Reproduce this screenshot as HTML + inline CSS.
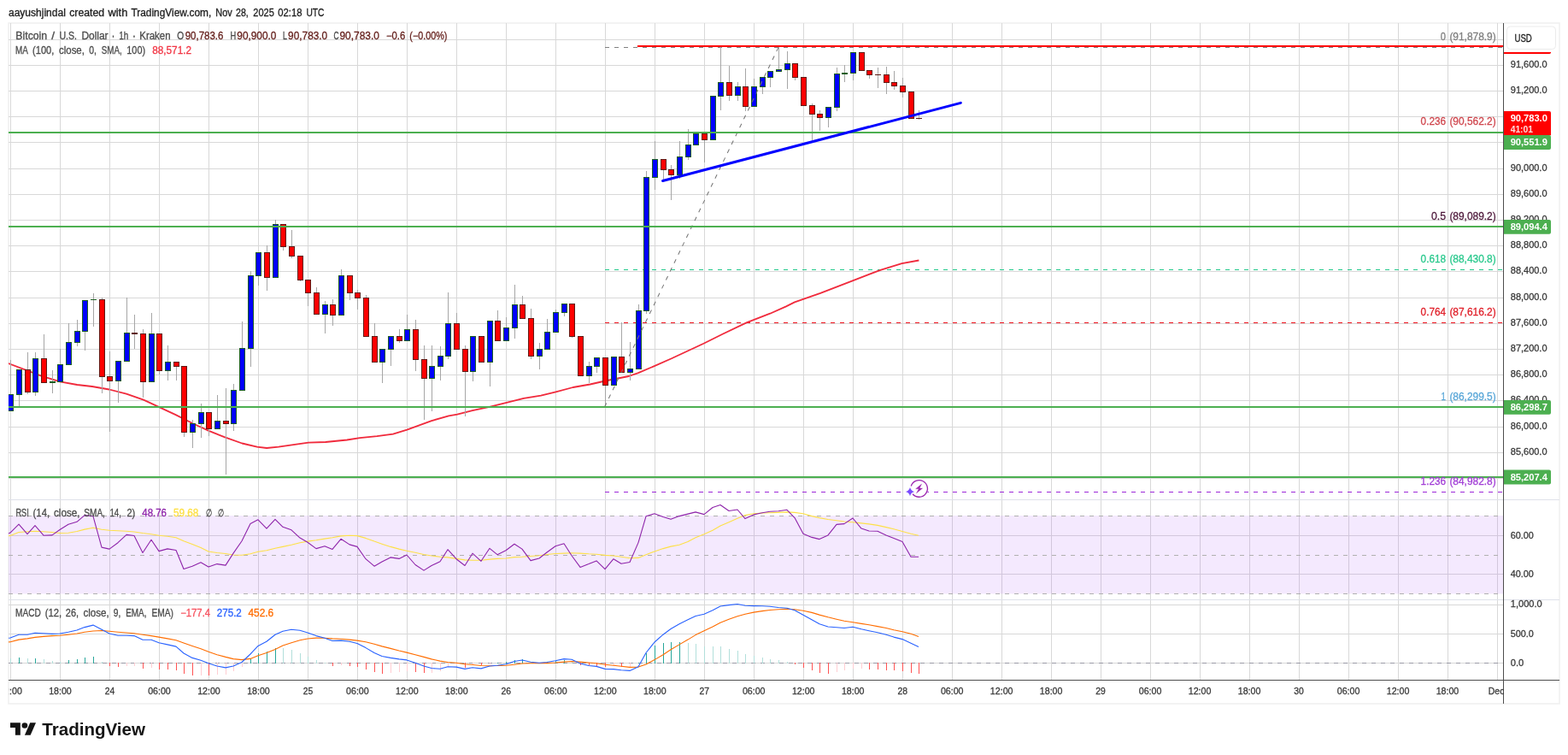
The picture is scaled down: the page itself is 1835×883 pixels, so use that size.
<!DOCTYPE html>
<html lang="en">
<head>
<meta charset="utf-8">
<title>BTCUSD chart</title>
<style>
html,body{margin:0;padding:0;background:#fff;}
body{width:1835px;height:883px;overflow:hidden;}
svg{display:block;font-family:"Liberation Sans",sans-serif;}
text{white-space:pre;}
</style>
</head>
<body>
<svg width="1835" height="883" viewBox="0 0 1835 883">
<defs>
<clipPath id="cpMain"><rect x="10" y="27" width="1749.0" height="768.0"/></clipPath>
<clipPath id="cpTime"><rect x="10.9" y="795.5" width="1749.0" height="27.5"/></clipPath>
</defs>
<rect width="1835" height="883" fill="#fff"/>
<rect x="10" y="27" width="1815" height="796" fill="#fff" stroke="#f0f0f0" stroke-width="1.6"/>
<g shape-rendering="crispEdges" stroke-width="1">
<path d="M12.5 27V795.5M70.5 27V795.5M128.5 27V795.5M186.5 27V795.5M244.5 27V795.5M302.5 27V795.5M360.5 27V795.5M418.5 27V795.5M476.5 27V795.5M534.5 27V795.5M592.5 27V795.5M650.5 27V795.5M708.5 27V795.5M766.5 27V795.5M824.5 27V795.5M882.5 27V795.5M940.5 27V795.5M998.5 27V795.5M1056.5 27V795.5M1114.5 27V795.5M1172.5 27V795.5M1230.5 27V795.5M1288.5 27V795.5M1346.5 27V795.5M1404.5 27V795.5M1462.5 27V795.5M1520.5 27V795.5M1578.5 27V795.5M1636.5 27V795.5M1694.5 27V795.5M1752.5 27V795.5" stroke="#d8d8d8" fill="none"/>
<path d="M10 46.5H1759.5M10 76.5H1759.5M10 106.5H1759.5M10 136.5H1759.5M10 166.5H1759.5M10 197.5H1759.5M10 227.5H1759.5M10 257.5H1759.5M10 287.5H1759.5M10 317.5H1759.5M10 348.5H1759.5M10 378.5H1759.5M10 408.5H1759.5M10 438.5H1759.5M10 468.5H1759.5M10 499.5H1759.5M10 529.5H1759.5M10 559.5H1759.5M10 626.5H1759.5M10 671.5H1759.5M10 707.5H1759.5M10 741.5H1759.5M10 775.5H1759.5" stroke="#d8d8d8" fill="none"/>
</g>
<rect x="10" y="603" width="1749.0" height="91.5" fill="#a855f7" fill-opacity="0.13"/>
<g shape-rendering="crispEdges" stroke="#b0b0b0" stroke-width="1" stroke-dasharray="5 6" fill="none">
<path d="M9.6 603.5H1759.5M9.6 649.5H1759.5M9.6 694.5H1759.5"/>
<path d="M9.6 775.5H1759.5" stroke="#9a9aa6"/>
</g>
<g shape-rendering="crispEdges" stroke="#dfe1ea" stroke-width="1"><path d="M10 584.5H1825M10 701.5H1825"/></g>
<g fill="none" stroke-width="1" shape-rendering="crispEdges">
<path d="M708 55.5H1759.5" stroke="#808080" stroke-dasharray="5 6"/>
<path d="M708 315.5H1759.5" stroke="#22c98b" stroke-dasharray="5 6"/>
<path d="M708 377.5H1759.5" stroke="#f0131e" stroke-dasharray="5 6"/>
<path d="M708 575.5H1759.5" stroke="#9c27d8" stroke-dasharray="5 6"/>
</g>
<polyline points="10.0,425.0 47.6,439.4 53.9,441.3 70.2,446.3 90.2,450.0 107.8,452.0 127.8,455.5 147.9,460.6 168.0,467.6 186.8,476.4 205.6,485.1 225.6,495.2 244.4,503.9 263.2,511.4 283.3,518.5 300.8,522.7 312.1,524.0 325.9,522.7 343.4,520.2 361.0,517.7 381.0,517.0 406.1,514.5 421.2,512.2 441.2,510.2 460.0,507.7 476.3,502.7 505.1,492.1 525.2,486.4 535.2,484.6 552.8,480.1 572.8,475.8 592.9,470.8 612.9,465.8 633.0,462.6 650.5,458.3 670.6,453.0 690.6,449.5 708.2,445.5 723.2,442.5 735.8,440.0 747.0,436.1 765.8,428.1 785.9,419.3 823.5,401.7 846.1,390.5 873.6,377.4 901.2,366.7 920.0,358.4 930.0,353.4 960.1,342.8 997.7,328.3 1030.3,315.8 1055.4,308.2 1075.4,304.5" stroke="#f02a3c" stroke-width="1.8" fill="none" stroke-linejoin="round" clip-path="url(#cpMain)"/>
<g shape-rendering="crispEdges" clip-path="url(#cpMain)">
<path d="M12.5 421V481M22.5 432V475M32.5 412V461M41.5 412V463M51.5 391V448M61.5 433V460M70.5 408V447M80.5 378V427M90.5 374V405M99.5 351V410M109.5 343V382M119.5 348V460M128.5 411V505M138.5 422V471M148.5 348V423M157.5 368V408M167.5 385V465M177.5 366V447M186.5 390V438M196.5 404V445M206.5 423V445M215.5 428V511M225.5 491V524M235.5 472V512M244.5 482V510M254.5 462V502M264.5 454V555M273.5 449V504M283.5 376V457M293.5 317V429M302.5 295V334M312.5 287V340M322.5 257V325M331.5 262V293M341.5 269V302M351.5 299V329M360.5 327V358M370.5 336V368M380.5 352V390M389.5 350V381M399.5 315V369M409.5 322V351M418.5 339V362M428.5 345V394M438.5 378V424M447.5 408V448M457.5 393V428M467.5 385V401M476.5 368V399M486.5 374V434M496.5 404V491M505.5 404V481M515.5 405V445M524.5 342V420M534.5 366V409M544.5 404V487M553.5 393V446M563.5 393V424M573.5 375V452M582.5 363V399M592.5 371V399M602.5 333V396M611.5 346V373M621.5 361V420M631.5 401V432M640.5 373V409M650.5 362V389M660.5 355V370M669.5 355V395M679.5 393V440M689.5 423V448M698.5 418V436M708.5 418V475M718.5 417V451M727.5 377V436M737.5 400V445M747.5 356V432M756.5 200V367M766.5 165V222M776.5 186V211M785.5 193V234M795.5 165V209M805.5 151V187M814.5 156V170M824.5 156V190M834.5 112V164M843.5 55V129M853.5 77V118M863.5 96V118M872.5 80V130M882.5 92V125M892.5 90V110M901.5 83V102M911.5 55V84M921.5 60V104M930.5 74V94M940.5 90V124M950.5 121V164M959.5 129V153M969.5 125V149M979.5 79V130M988.5 76V96M998.5 61V94M1008.5 61V83M1017.5 82V92M1027.5 79V103M1037.5 78V110M1046.5 83V105M1056.5 91V114M1066.5 107V139M1075.5 129V140" stroke="#a6a6a6" stroke-width="1" fill="none"/>
<path d="M9.0 461h7v20h-7zM19.0 432h7v30h-7zM38.0 419h7v40h-7zM67.0 426h7v21h-7zM77.0 400h7v27h-7zM87.0 387h7v14h-7zM96.0 351h7v37h-7zM135.0 422h7v24h-7zM145.0 389h7v34h-7zM174.0 390h7v57h-7zM193.0 423h7v11h-7zM222.0 495h7v11h-7zM232.0 482h7v14h-7zM251.0 492h7v10h-7zM270.0 456h7v40h-7zM280.0 407h7v50h-7zM290.0 322h7v86h-7zM299.0 295h7v28h-7zM319.0 262h7v63h-7zM377.0 356h7v12h-7zM396.0 322h7v47h-7zM444.0 408h7v16h-7zM454.0 393h7v16h-7zM473.0 385h7v14h-7zM502.0 428h7v15h-7zM512.0 416h7v13h-7zM521.0 378h7v39h-7zM550.0 393h7v42h-7zM570.0 375h7v49h-7zM589.0 383h7v16h-7zM599.0 356h7v28h-7zM628.0 408h7v9h-7zM637.0 388h7v21h-7zM647.0 365h7v24h-7zM657.0 355h7v11h-7zM686.0 428h7v12h-7zM695.0 418h7v11h-7zM715.0 417h7v34h-7zM734.0 431h7v5h-7zM744.0 363h7v69h-7zM753.0 207h7v157h-7zM763.0 186h7v22h-7zM792.0 183h7v22h-7zM802.0 169h7v15h-7zM811.0 156h7v14h-7zM831.0 112h7v52h-7zM840.0 96h7v17h-7zM860.0 101h7v11h-7zM879.0 101h7v24h-7zM889.0 90h7v12h-7zM898.0 83h7v8h-7zM908.0 81h7v3h-7zM918.0 74h7v8h-7zM966.0 125h7v13h-7zM976.0 86h7v40h-7zM995.0 61h7v25h-7zM58.0 446h7v2h-7zM106.0 350h7v1h-7zM985.0 85h7v2h-7z" fill="#1b5e20"/>
<path d="M29.0 432h7v27h-7zM48.0 419h7v29h-7zM116.0 350h7v91h-7zM125.0 440h7v6h-7zM164.0 390h7v57h-7zM183.0 390h7v44h-7zM203.0 423h7v6h-7zM212.0 428h7v78h-7zM241.0 482h7v20h-7zM261.0 492h7v4h-7zM309.0 295h7v30h-7zM328.0 262h7v27h-7zM338.0 288h7v12h-7zM348.0 299h7v29h-7zM357.0 327h7v16h-7zM367.0 342h7v26h-7zM386.0 356h7v13h-7zM406.0 322h7v21h-7zM415.0 342h7v7h-7zM425.0 348h7v46h-7zM435.0 393h7v31h-7zM464.0 393h7v6h-7zM483.0 385h7v36h-7zM493.0 420h7v23h-7zM531.0 378h7v31h-7zM541.0 408h7v27h-7zM560.0 393h7v31h-7zM579.0 375h7v24h-7zM608.0 356h7v17h-7zM618.0 372h7v45h-7zM666.0 355h7v39h-7zM676.0 393h7v47h-7zM705.0 418h7v33h-7zM724.0 417h7v19h-7zM773.0 186h7v13h-7zM782.0 198h7v7h-7zM821.0 156h7v8h-7zM850.0 96h7v16h-7zM869.0 101h7v24h-7zM927.0 74h7v17h-7zM937.0 90h7v34h-7zM947.0 123h7v11h-7zM956.0 133h7v5h-7zM1005.0 61h7v22h-7zM1014.0 82h7v6h-7zM1034.0 87h7v10h-7zM1043.0 96h7v5h-7zM1053.0 100h7v8h-7zM1063.0 107h7v32h-7zM154.0 389h7v2h-7zM1024.0 87h7v1h-7zM1072.0 138h7v1h-7z" fill="#5e1a14"/>
<path d="M10.0 462h5v18h-5zM20.0 433h5v28h-5zM39.0 420h5v38h-5zM68.0 427h5v19h-5zM78.0 401h5v25h-5zM88.0 388h5v12h-5zM97.0 352h5v35h-5zM136.0 423h5v22h-5zM146.0 390h5v32h-5zM175.0 391h5v55h-5zM194.0 424h5v9h-5zM223.0 496h5v9h-5zM233.0 483h5v12h-5zM252.0 493h5v8h-5zM271.0 457h5v38h-5zM281.0 408h5v48h-5zM291.0 323h5v84h-5zM300.0 296h5v26h-5zM320.0 263h5v61h-5zM378.0 357h5v10h-5zM397.0 323h5v45h-5zM445.0 409h5v14h-5zM455.0 394h5v14h-5zM474.0 386h5v12h-5zM503.0 429h5v13h-5zM513.0 417h5v11h-5zM522.0 379h5v37h-5zM551.0 394h5v40h-5zM571.0 376h5v47h-5zM590.0 384h5v14h-5zM600.0 357h5v26h-5zM629.0 409h5v7h-5zM638.0 389h5v19h-5zM648.0 366h5v22h-5zM658.0 356h5v9h-5zM687.0 429h5v10h-5zM696.0 419h5v9h-5zM716.0 418h5v32h-5zM735.0 432h5v3h-5zM745.0 364h5v67h-5zM754.0 208h5v155h-5zM764.0 187h5v20h-5zM793.0 184h5v20h-5zM803.0 170h5v13h-5zM812.0 157h5v12h-5zM832.0 113h5v50h-5zM841.0 97h5v15h-5zM861.0 102h5v9h-5zM880.0 102h5v22h-5zM890.0 91h5v10h-5zM899.0 84h5v6h-5zM909.0 82h5v1h-5zM919.0 75h5v6h-5zM967.0 126h5v11h-5zM977.0 87h5v38h-5zM996.0 62h5v23h-5z" fill="#0000ff"/>
<path d="M30.0 433h5v25h-5zM49.0 420h5v27h-5zM117.0 351h5v89h-5zM126.0 441h5v4h-5zM165.0 391h5v55h-5zM184.0 391h5v42h-5zM204.0 424h5v4h-5zM213.0 429h5v76h-5zM242.0 483h5v18h-5zM262.0 493h5v2h-5zM310.0 296h5v28h-5zM329.0 263h5v25h-5zM339.0 289h5v10h-5zM349.0 300h5v27h-5zM358.0 328h5v14h-5zM368.0 343h5v24h-5zM387.0 357h5v11h-5zM407.0 323h5v19h-5zM416.0 343h5v5h-5zM426.0 349h5v44h-5zM436.0 394h5v29h-5zM465.0 394h5v4h-5zM484.0 386h5v34h-5zM494.0 421h5v21h-5zM532.0 379h5v29h-5zM542.0 409h5v25h-5zM561.0 394h5v29h-5zM580.0 376h5v22h-5zM609.0 357h5v15h-5zM619.0 373h5v43h-5zM667.0 356h5v37h-5zM677.0 394h5v45h-5zM706.0 419h5v31h-5zM725.0 418h5v17h-5zM774.0 187h5v11h-5zM783.0 199h5v5h-5zM822.0 157h5v6h-5zM851.0 97h5v14h-5zM870.0 102h5v22h-5zM928.0 75h5v15h-5zM938.0 91h5v32h-5zM948.0 124h5v9h-5zM957.0 134h5v3h-5zM1006.0 62h5v20h-5zM1015.0 83h5v4h-5zM1035.0 88h5v8h-5zM1044.0 97h5v3h-5zM1054.0 101h5v6h-5zM1064.0 108h5v30h-5z" fill="#ff0000"/>
</g>
<path d="M707.5 476L911 55.5" stroke="#777" stroke-width="1.05" stroke-dasharray="5 6" fill="none"/>
<g shape-rendering="crispEdges" fill="#4caf50">
<rect x="10" y="154" width="1749.0" height="2"/>
<rect x="10" y="264" width="1749.0" height="2"/>
<rect x="10" y="475" width="1749.0" height="2"/>
<rect x="10" y="557" width="1749.0" height="2"/>
</g>
<rect x="746" y="53" width="1013.0" height="2" fill="#ff0000" shape-rendering="crispEdges"/>
<path d="M775.6 211.5L1124.3 120.4" stroke="#0000ff" stroke-width="3" stroke-linecap="round" fill="none"/>
<polyline points="2.8,627.7 12.0,626.4 22.0,622.5 32.0,621.7 41.0,621.3 51.0,621.7 61.0,622.5 70.0,623.5 80.0,623.2 90.0,621.5 99.0,619.1 109.0,617.3 119.0,619.2 128.0,620.3 138.0,620.7 148.0,621.3 157.0,622.0 167.0,623.5 177.0,624.7 186.0,626.2 196.0,627.3 206.0,628.8 215.0,632.8 225.0,636.5 235.0,640.6 244.0,645.0 254.0,646.5 264.0,647.5 273.0,649.0 283.0,649.3 293.0,647.8 302.0,645.3 312.0,643.8 322.0,641.2 331.0,639.4 341.0,637.2 351.0,634.7 360.0,633.1 370.0,631.8 380.0,630.1 389.0,628.8 399.0,626.9 409.0,626.2 418.0,626.6 428.0,629.4 438.0,633.1 447.0,636.2 457.0,639.4 467.0,642.1 476.0,644.3 486.0,646.3 496.0,648.5 505.0,650.0 515.0,651.2 524.0,651.9 534.0,653.4 544.0,654.9 553.0,655.3 563.0,655.2 573.0,654.1 582.0,653.4 592.0,653.0 602.0,651.6 611.0,651.2 621.0,650.5 631.0,649.7 640.0,648.5 650.0,647.5 660.0,647.1 669.0,646.8 679.0,647.1 689.0,647.8 698.0,648.2 708.0,649.4 718.0,650.0 727.0,651.2 737.0,652.7 747.0,652.4 756.0,648.7 766.0,644.9 776.0,641.6 785.0,639.1 795.0,637.2 805.0,633.5 814.0,628.8 824.0,624.7 834.0,620.3 843.0,615.1 853.0,610.7 863.0,606.3 872.0,602.6 882.0,600.7 892.0,600.0 901.0,599.7 911.0,599.4 921.0,598.9 930.0,599.4 940.0,600.8 950.0,603.6 959.0,605.6 969.0,607.5 979.0,608.8 988.0,610.0 998.0,610.7 1008.0,611.9 1017.0,612.9 1027.0,614.4 1037.0,616.6 1046.0,618.8 1056.0,621.5 1066.0,624.2 1075.0,626.2" stroke="#fde047" stroke-width="1.1" fill="none" stroke-linejoin="round" clip-path="url(#cpMain)"/>
<polyline points="2.8,626.4 12.0,623.1 22.0,613.2 32.0,624.7 41.0,614.7 51.0,626.2 61.0,625.9 70.0,619.5 80.0,613.2 90.0,610.3 99.0,602.6 109.0,603.8 119.0,640.1 128.0,642.1 138.0,634.7 148.0,625.4 157.0,626.5 167.0,646.5 177.0,631.3 186.0,644.6 196.0,641.9 206.0,643.5 215.0,665.5 225.0,662.2 235.0,657.8 244.0,663.0 254.0,659.6 264.0,661.1 273.0,647.1 283.0,632.8 293.0,612.6 302.0,607.8 312.0,618.1 322.0,607.3 331.0,616.3 341.0,619.8 351.0,629.1 360.0,634.3 370.0,641.6 380.0,638.7 389.0,642.4 399.0,630.3 409.0,636.9 418.0,639.4 428.0,653.7 438.0,662.2 447.0,657.1 457.0,651.9 467.0,653.4 476.0,649.0 486.0,660.5 496.0,667.1 505.0,661.5 515.0,656.8 524.0,642.7 534.0,653.7 544.0,661.5 553.0,647.2 563.0,656.3 573.0,641.3 582.0,648.7 592.0,643.8 602.0,636.2 611.0,642.1 621.0,655.6 631.0,653.0 640.0,646.0 650.0,638.7 660.0,635.7 669.0,649.7 679.0,663.4 689.0,659.6 698.0,655.9 708.0,665.6 718.0,653.7 727.0,659.3 737.0,657.5 747.0,634.6 756.0,603.8 766.0,600.7 776.0,604.4 785.0,607.3 795.0,603.6 805.0,601.1 814.0,598.9 824.0,601.6 834.0,593.5 843.0,590.5 853.0,597.5 863.0,596.0 872.0,606.6 882.0,601.9 892.0,599.7 901.0,598.2 911.0,597.8 921.0,596.3 930.0,605.6 940.0,624.2 950.0,628.4 959.0,630.6 969.0,625.9 979.0,613.4 988.0,612.6 998.0,606.0 1008.0,618.1 1017.0,621.0 1027.0,621.3 1037.0,625.9 1046.0,629.4 1056.0,633.5 1066.0,651.2 1075.0,651.2" stroke="#8e24aa" stroke-width="1.1" fill="none" stroke-linejoin="round" clip-path="url(#cpMain)"/>
<g shape-rendering="crispEdges" fill="none" stroke-width="1" clip-path="url(#cpMain)">
<path d="M22.5 776.0V769.1M41.5 776.0V770.1M80.5 776.0V772.0M90.5 776.0V771.0M99.5 776.0V769.1M109.5 776.0V768.1M293.5 776.0V770.4M302.5 776.0V764.0M312.5 776.0V762.0M322.5 776.0V758.1M582.5 776.0V774.5M592.5 776.0V774.1M602.5 776.0V772.3M611.5 776.0V771.2M650.5 776.0V773.4M660.5 776.0V772.3M747.5 776.0V774.5M756.5 776.0V763.5M766.5 776.0V755.1M776.5 776.0V752.2M785.5 776.0V751.0M795.5 776.0V751.0" stroke="#26a69a"/>
<path d="M12.5 776.0V770.1M32.5 776.0V770.1M51.5 776.0V771.2M61.5 776.0V773.1M70.5 776.0V773.7M119.5 776.0V774.1M331.5 776.0V758.1M341.5 776.0V760.1M351.5 776.0V764.2M360.5 776.0V767.9M370.5 776.0V772.0M380.5 776.0V774.5M621.5 776.0V774.3M631.5 776.0V774.5M640.5 776.0V774.5M669.5 776.0V774.3M805.5 776.0V752.2M814.5 776.0V752.9M824.5 776.0V755.9M834.5 776.0V755.9M843.5 776.0V755.9M853.5 776.0V758.8M863.5 776.0V761.0M872.5 776.0V765.0M882.5 776.0V767.2M892.5 776.0V769.1M901.5 776.0V770.9M911.5 776.0V772.0M921.5 776.0V774.1" stroke="#b2dfdb"/>
<path d="M128.5 775.0V779.0M138.5 775.0V780.0M167.5 775.0V781.9M186.5 775.0V782.9M196.5 775.0V782.9M206.5 775.0V783.8M215.5 775.0V787.8M225.5 775.0V790.0M244.5 775.0V790.0M389.5 775.0V779.0M409.5 775.0V779.0M418.5 775.0V780.0M428.5 775.0V782.9M438.5 775.0V786.0M447.5 775.0V787.8M486.5 775.0V786.0M496.5 775.0V787.1M544.5 775.0V780.9M563.5 775.0V778.2M679.5 775.0V777.5M689.5 775.0V778.2M698.5 775.0V779.0M708.5 775.0V780.4M727.5 775.0V780.4M930.5 775.0V776.8M940.5 775.0V780.9M950.5 775.0V783.8M959.5 775.0V786.8M969.5 775.0V787.8M1017.5 775.0V782.9M1027.5 775.0V782.9M1037.5 775.0V783.8M1046.5 775.0V783.8M1056.5 775.0V785.0M1066.5 775.0V786.8M1075.5 775.0V787.9" stroke="#ff5252"/>
<path d="M148.5 775.0V778.7M157.5 775.0V778.7M177.5 775.0V780.7M235.5 775.0V789.7M254.5 775.0V788.5M264.5 775.0V788.8M273.5 775.0V784.9M283.5 775.0V779.7M399.5 775.0V777.5M457.5 775.0V786.8M467.5 775.0V786.0M476.5 775.0V784.9M505.5 775.0V786.8M515.5 775.0V784.9M524.5 775.0V779.7M534.5 775.0V778.2M553.5 775.0V778.2M573.5 775.0V776.5M718.5 775.0V779.0M737.5 775.0V779.7M979.5 775.0V785.9M988.5 775.0V783.8M998.5 775.0V781.9M1008.5 775.0V781.9" stroke="#ffcdd2"/>
</g>
<polyline points="2.8,751.6 12.0,750.7 22.0,748.1 32.0,746.9 41.0,745.4 51.0,744.4 61.0,743.6 70.0,743.2 80.0,742.2 90.0,741.0 99.0,739.2 109.0,738.0 119.0,737.5 128.0,738.2 138.0,739.2 148.0,740.0 157.0,740.7 167.0,742.2 177.0,743.6 186.0,745.1 196.0,746.9 206.0,748.8 215.0,752.0 225.0,755.4 235.0,758.8 244.0,762.3 254.0,765.7 264.0,768.4 273.0,770.6 283.0,771.6 293.0,770.4 302.0,766.7 312.0,763.5 322.0,759.4 331.0,755.1 341.0,751.7 351.0,748.8 360.0,747.0 370.0,746.1 380.0,746.3 389.0,746.9 399.0,747.3 409.0,748.1 418.0,749.1 428.0,750.7 438.0,753.2 447.0,755.9 457.0,758.4 467.0,761.0 476.0,763.1 486.0,765.7 496.0,768.4 505.0,770.9 515.0,773.1 524.0,774.5 534.0,775.3 544.0,776.8 553.0,777.5 563.0,778.5 573.0,778.7 582.0,778.5 592.0,778.2 602.0,777.2 611.0,776.0 621.0,775.7 631.0,775.6 640.0,775.6 650.0,775.0 660.0,774.1 669.0,773.5 679.0,774.1 689.0,775.0 698.0,775.7 708.0,777.2 718.0,778.2 727.0,779.3 737.0,780.4 747.0,780.1 756.0,777.1 766.0,771.6 776.0,765.7 785.0,759.8 795.0,753.9 805.0,748.1 814.0,742.6 824.0,737.7 834.0,733.0 843.0,728.2 853.0,724.2 863.0,720.8 872.0,718.2 882.0,716.1 892.0,714.6 901.0,713.5 911.0,712.7 921.0,712.3 930.0,712.7 940.0,714.2 950.0,716.4 959.0,719.1 969.0,721.8 979.0,724.2 988.0,726.3 998.0,727.7 1008.0,729.4 1017.0,730.8 1027.0,732.6 1037.0,734.5 1046.0,736.7 1056.0,738.8 1066.0,741.3 1075.0,744.4" stroke="#ff6d00" stroke-width="1.1" fill="none" stroke-linejoin="round" clip-path="url(#cpMain)"/>
<polyline points="2.8,747.3 12.0,746.0 22.0,742.2 32.0,742.2 41.0,740.2 51.0,740.7 61.0,741.4 70.0,741.0 80.0,739.2 90.0,737.0 99.0,733.6 109.0,731.1 119.0,736.3 128.0,741.0 138.0,743.3 148.0,743.3 157.0,743.6 167.0,748.3 177.0,748.3 186.0,751.7 196.0,753.9 206.0,756.1 215.0,764.0 225.0,769.4 235.0,772.3 244.0,775.7 254.0,779.0 264.0,780.9 273.0,779.0 283.0,774.5 293.0,765.0 302.0,755.4 312.0,750.3 322.0,742.2 331.0,738.2 341.0,736.3 351.0,737.3 360.0,740.0 370.0,743.6 380.0,746.3 389.0,749.5 399.0,749.1 409.0,750.3 418.0,752.5 428.0,757.6 438.0,763.5 447.0,767.5 457.0,769.4 467.0,770.9 476.0,771.9 486.0,775.3 496.0,779.0 505.0,781.5 515.0,782.2 524.0,779.7 534.0,780.1 544.0,782.4 553.0,780.7 563.0,781.9 573.0,779.0 582.0,778.2 592.0,776.8 602.0,773.5 611.0,772.0 621.0,774.3 631.0,775.3 640.0,774.5 650.0,772.8 660.0,770.6 669.0,771.3 679.0,776.0 689.0,778.5 698.0,779.4 708.0,782.4 718.0,782.6 727.0,783.8 737.0,784.4 747.0,779.7 756.0,763.5 766.0,751.0 776.0,742.2 785.0,735.5 795.0,729.7 805.0,724.8 814.0,720.5 824.0,718.3 834.0,713.8 843.0,709.0 853.0,707.6 863.0,706.5 872.0,708.3 882.0,708.6 892.0,708.7 901.0,709.3 911.0,710.5 921.0,711.2 930.0,713.8 940.0,719.3 950.0,724.8 959.0,729.7 969.0,733.0 979.0,733.8 988.0,734.5 998.0,733.3 1008.0,735.8 1017.0,737.7 1027.0,739.7 1037.0,742.2 1046.0,745.1 1056.0,747.6 1066.0,752.2 1075.0,756.4" stroke="#2962ff" stroke-width="1.1" fill="none" stroke-linejoin="round" clip-path="url(#cpMain)"/>
<g shape-rendering="crispEdges" stroke="#4d4d4d" stroke-width="1"><path d="M1759.5 27V823M10 795.5H1825"/></g>
<text x="1767.80" y="79.10" font-size="11" fill="#3a3a3a" stroke="#3a3a3a" stroke-width="0.3" textLength="42.70" lengthAdjust="spacingAndGlyphs">91,600.0</text>
<text x="1767.80" y="109.10" font-size="11" fill="#3a3a3a" stroke="#3a3a3a" stroke-width="0.3" textLength="42.70" lengthAdjust="spacingAndGlyphs">91,200.0</text>
<text x="1767.80" y="139.10" font-size="11" fill="#3a3a3a" stroke="#3a3a3a" stroke-width="0.3" textLength="42.70" lengthAdjust="spacingAndGlyphs">90,800.0</text>
<text x="1767.80" y="169.10" font-size="11" fill="#3a3a3a" stroke="#3a3a3a" stroke-width="0.3" textLength="42.70" lengthAdjust="spacingAndGlyphs">90,400.0</text>
<text x="1767.80" y="200.10" font-size="11" fill="#3a3a3a" stroke="#3a3a3a" stroke-width="0.3" textLength="42.70" lengthAdjust="spacingAndGlyphs">90,000.0</text>
<text x="1767.80" y="230.10" font-size="11" fill="#3a3a3a" stroke="#3a3a3a" stroke-width="0.3" textLength="42.70" lengthAdjust="spacingAndGlyphs">89,600.0</text>
<text x="1767.80" y="260.10" font-size="11" fill="#3a3a3a" stroke="#3a3a3a" stroke-width="0.3" textLength="42.70" lengthAdjust="spacingAndGlyphs">89,200.0</text>
<text x="1767.80" y="290.10" font-size="11" fill="#3a3a3a" stroke="#3a3a3a" stroke-width="0.3" textLength="42.70" lengthAdjust="spacingAndGlyphs">88,800.0</text>
<text x="1767.80" y="320.10" font-size="11" fill="#3a3a3a" stroke="#3a3a3a" stroke-width="0.3" textLength="42.70" lengthAdjust="spacingAndGlyphs">88,400.0</text>
<text x="1767.80" y="351.10" font-size="11" fill="#3a3a3a" stroke="#3a3a3a" stroke-width="0.3" textLength="42.70" lengthAdjust="spacingAndGlyphs">88,000.0</text>
<text x="1767.80" y="381.10" font-size="11" fill="#3a3a3a" stroke="#3a3a3a" stroke-width="0.3" textLength="42.70" lengthAdjust="spacingAndGlyphs">87,600.0</text>
<text x="1767.80" y="411.10" font-size="11" fill="#3a3a3a" stroke="#3a3a3a" stroke-width="0.3" textLength="42.70" lengthAdjust="spacingAndGlyphs">87,200.0</text>
<text x="1767.80" y="441.10" font-size="11" fill="#3a3a3a" stroke="#3a3a3a" stroke-width="0.3" textLength="42.70" lengthAdjust="spacingAndGlyphs">86,800.0</text>
<text x="1767.80" y="471.10" font-size="11" fill="#3a3a3a" stroke="#3a3a3a" stroke-width="0.3" textLength="42.70" lengthAdjust="spacingAndGlyphs">86,400.0</text>
<text x="1767.80" y="502.10" font-size="11" fill="#3a3a3a" stroke="#3a3a3a" stroke-width="0.3" textLength="42.70" lengthAdjust="spacingAndGlyphs">86,000.0</text>
<text x="1767.80" y="532.10" font-size="11" fill="#3a3a3a" stroke="#3a3a3a" stroke-width="0.3" textLength="42.70" lengthAdjust="spacingAndGlyphs">85,600.0</text>
<text x="1767.80" y="629.90" font-size="11" fill="#3a3a3a" stroke="#3a3a3a" stroke-width="0.3" textLength="27.00" lengthAdjust="spacingAndGlyphs">60.00</text>
<text x="1767.80" y="674.90" font-size="11" fill="#3a3a3a" stroke="#3a3a3a" stroke-width="0.3" textLength="27.00" lengthAdjust="spacingAndGlyphs">40.00</text>
<text x="1767.80" y="710.10" font-size="11" fill="#3a3a3a" stroke="#3a3a3a" stroke-width="0.3" textLength="36.80" lengthAdjust="spacingAndGlyphs">1,000.0</text>
<text x="1767.80" y="745.20" font-size="11" fill="#3a3a3a" stroke="#3a3a3a" stroke-width="0.3" textLength="27.00" lengthAdjust="spacingAndGlyphs">500.0</text>
<text x="1767.80" y="779.20" font-size="11" fill="#3a3a3a" stroke="#3a3a3a" stroke-width="0.3" textLength="15.50" lengthAdjust="spacingAndGlyphs">0.0</text>
<path d="M1760.0 61H1815V61.5Q1814.6 63 1813 63H1760.0z" fill="#ff0000"/>
<path d="M1760.0 130H1813Q1815 130 1815 132V158.3H1760.0z" fill="#ff0000"/>
<text x="1767.70" y="141.70" font-size="11" fill="#fff" font-weight="bold" textLength="43.20" lengthAdjust="spacingAndGlyphs">90,783.0</text>
<text x="1767.70" y="154.70" font-size="11" fill="#fff" font-weight="bold" textLength="26.30" lengthAdjust="spacingAndGlyphs" fill-opacity="0.86">41:01</text>
<path d="M1760.0 158H1813Q1815 158 1815 160V173Q1815 175 1813 175H1760.0z" fill="#4caf50"/>
<text x="1767.70" y="169.80" font-size="11" fill="#fff" font-weight="bold" textLength="43.20" lengthAdjust="spacingAndGlyphs">90,551.9</text>
<path d="M1760.0 256.90000000000003H1813Q1815 256.90000000000003 1815 258.90000000000003V271.7Q1815 273.7 1813 273.7H1760.0z" fill="#4caf50"/>
<text x="1767.70" y="269.30" font-size="11" fill="#fff" font-weight="bold" textLength="43.20" lengthAdjust="spacingAndGlyphs">89,094.4</text>
<path d="M1760.0 467.90000000000003H1813Q1815 467.90000000000003 1815 469.90000000000003V482.7Q1815 484.7 1813 484.7H1760.0z" fill="#4caf50"/>
<text x="1767.70" y="480.30" font-size="11" fill="#fff" font-weight="bold" textLength="43.20" lengthAdjust="spacingAndGlyphs">86,298.7</text>
<path d="M1760.0 549.6H1813Q1815 549.6 1815 551.6V564.4Q1815 566.4 1813 566.4H1760.0z" fill="#4caf50"/>
<text x="1767.70" y="562.00" font-size="11" fill="#fff" font-weight="bold" textLength="43.20" lengthAdjust="spacingAndGlyphs">85,207.4</text>
<rect x="1763.5" y="31" width="57" height="26.5" rx="4" fill="#fff" stroke="#ebebeb" stroke-width="1"/>
<text x="1772.50" y="48.70" font-size="12" fill="#1a1a1a" stroke="#1a1a1a" stroke-width="0.3" textLength="20.30" lengthAdjust="spacingAndGlyphs">USD</text>
<text x="1685.80" y="46.60" font-size="12" fill="#808080" stroke="#808080" stroke-width="0.3" textLength="6.20" lengthAdjust="spacingAndGlyphs">0</text>
<text x="1696.40" y="46.60" font-size="12" fill="#808080" stroke="#808080" stroke-width="0.3" textLength="54.30" lengthAdjust="spacingAndGlyphs">(91,878.9)</text>
<text x="1662.60" y="146.20" font-size="12" fill="#d0484f" stroke="#d0484f" stroke-width="0.3" textLength="29.40" lengthAdjust="spacingAndGlyphs">0.236</text>
<text x="1696.40" y="146.20" font-size="12" fill="#d0484f" stroke="#d0484f" stroke-width="0.3" textLength="54.30" lengthAdjust="spacingAndGlyphs">(90,562.2)</text>
<text x="1674.90" y="256.90" font-size="12" fill="#4f1a3c" stroke="#4f1a3c" stroke-width="0.3" textLength="17.10" lengthAdjust="spacingAndGlyphs">0.5</text>
<text x="1696.40" y="256.90" font-size="12" fill="#4f1a3c" stroke="#4f1a3c" stroke-width="0.3" textLength="54.30" lengthAdjust="spacingAndGlyphs">(89,089.2)</text>
<text x="1662.60" y="307.20" font-size="12" fill="#2bc98e" stroke="#2bc98e" stroke-width="0.3" textLength="29.40" lengthAdjust="spacingAndGlyphs">0.618</text>
<text x="1696.40" y="307.20" font-size="12" fill="#2bc98e" stroke="#2bc98e" stroke-width="0.3" textLength="54.30" lengthAdjust="spacingAndGlyphs">(88,430.8)</text>
<text x="1662.60" y="369.00" font-size="12" fill="#e0212b" stroke="#e0212b" stroke-width="0.3" textLength="29.40" lengthAdjust="spacingAndGlyphs">0.764</text>
<text x="1696.40" y="369.00" font-size="12" fill="#e0212b" stroke="#e0212b" stroke-width="0.3" textLength="54.30" lengthAdjust="spacingAndGlyphs">(87,616.2)</text>
<text x="1686.60" y="468.20" font-size="12" fill="#5aa7d8" stroke="#5aa7d8" stroke-width="0.3" textLength="5.40" lengthAdjust="spacingAndGlyphs">1</text>
<text x="1696.40" y="468.20" font-size="12" fill="#5aa7d8" stroke="#5aa7d8" stroke-width="0.3" textLength="54.30" lengthAdjust="spacingAndGlyphs">(86,299.5)</text>
<text x="1662.60" y="567.10" font-size="12" fill="#a23fd6" stroke="#a23fd6" stroke-width="0.3" textLength="29.40" lengthAdjust="spacingAndGlyphs">1.236</text>
<text x="1696.40" y="567.10" font-size="12" fill="#a23fd6" stroke="#a23fd6" stroke-width="0.3" textLength="54.30" lengthAdjust="spacingAndGlyphs">(84,982.8)</text>
<text x="18.30" y="45.80" font-size="12" fill="#4a4a4a" stroke="#4a4a4a" stroke-width="0.3" textLength="36.90" lengthAdjust="spacingAndGlyphs">Bitcoin</text>
<text x="60.30" y="45.80" font-size="12" fill="#4a4a4a" stroke="#4a4a4a" stroke-width="0.3" textLength="3.80" lengthAdjust="spacingAndGlyphs">/</text>
<text x="69.40" y="45.80" font-size="12" fill="#4a4a4a" stroke="#4a4a4a" stroke-width="0.3" textLength="20.60" lengthAdjust="spacingAndGlyphs">U.S.</text>
<text x="95.40" y="45.80" font-size="12" fill="#4a4a4a" stroke="#4a4a4a" stroke-width="0.3" textLength="31.20" lengthAdjust="spacingAndGlyphs">Dollar</text>
<text x="131.30" y="45.80" font-size="12" fill="#4a4a4a" stroke="#4a4a4a" stroke-width="1.0" textLength="2.40" lengthAdjust="spacingAndGlyphs">·</text>
<text x="139.20" y="45.80" font-size="12" fill="#4a4a4a" stroke="#4a4a4a" stroke-width="0.3" textLength="11.10" lengthAdjust="spacingAndGlyphs">1h</text>
<text x="155.70" y="45.80" font-size="12" fill="#4a4a4a" stroke="#4a4a4a" stroke-width="1.0" textLength="2.40" lengthAdjust="spacingAndGlyphs">·</text>
<text x="163.30" y="45.80" font-size="12" fill="#4a4a4a" stroke="#4a4a4a" stroke-width="0.3" textLength="36.30" lengthAdjust="spacingAndGlyphs">Kraken</text>
<text x="207.20" y="45.80" font-size="12" fill="#4a4a4a" stroke="#4a4a4a" stroke-width="0.3" textLength="7.90" lengthAdjust="spacingAndGlyphs">O</text>
<text x="216.70" y="45.80" font-size="12" fill="#621c18" stroke="#621c18" stroke-width="0.3" textLength="44.70" lengthAdjust="spacingAndGlyphs">90,783.6</text>
<text x="269.60" y="45.80" font-size="12" fill="#4a4a4a" stroke="#4a4a4a" stroke-width="0.3" textLength="6.70" lengthAdjust="spacingAndGlyphs">H</text>
<text x="277.30" y="45.80" font-size="12" fill="#621c18" stroke="#621c18" stroke-width="0.3" textLength="46.10" lengthAdjust="spacingAndGlyphs">90,900.0</text>
<text x="331.00" y="45.80" font-size="12" fill="#4a4a4a" stroke="#4a4a4a" stroke-width="0.3" textLength="4.90" lengthAdjust="spacingAndGlyphs">L</text>
<text x="337.10" y="45.80" font-size="12" fill="#621c18" stroke="#621c18" stroke-width="0.3" textLength="46.10" lengthAdjust="spacingAndGlyphs">90,783.0</text>
<text x="390.50" y="45.80" font-size="12" fill="#4a4a4a" stroke="#4a4a4a" stroke-width="0.3" textLength="6.10" lengthAdjust="spacingAndGlyphs">C</text>
<text x="397.40" y="45.80" font-size="12" fill="#621c18" stroke="#621c18" stroke-width="0.3" textLength="46.50" lengthAdjust="spacingAndGlyphs">90,783.0</text>
<text x="451.90" y="45.80" font-size="12" fill="#621c18" stroke="#621c18" stroke-width="0.3" textLength="22.30" lengthAdjust="spacingAndGlyphs">−0.6</text>
<text x="479.30" y="45.80" font-size="12" fill="#621c18" stroke="#621c18" stroke-width="0.3" textLength="44.00" lengthAdjust="spacingAndGlyphs">(−0.00%)</text>
<text x="18.00" y="62.90" font-size="12" fill="#4a4a4a" stroke="#4a4a4a" stroke-width="0.3" textLength="14.80" lengthAdjust="spacingAndGlyphs">MA</text>
<text x="38.10" y="62.90" font-size="12" fill="#4a4a4a" stroke="#4a4a4a" stroke-width="0.3" textLength="25.20" lengthAdjust="spacingAndGlyphs">(100,</text>
<text x="69.00" y="62.90" font-size="12" fill="#4a4a4a" stroke="#4a4a4a" stroke-width="0.3" textLength="29.90" lengthAdjust="spacingAndGlyphs">close,</text>
<text x="104.20" y="62.90" font-size="12" fill="#4a4a4a" stroke="#4a4a4a" stroke-width="0.3" textLength="8.70" lengthAdjust="spacingAndGlyphs">0,</text>
<text x="118.70" y="62.90" font-size="12" fill="#4a4a4a" stroke="#4a4a4a" stroke-width="0.3" textLength="24.00" lengthAdjust="spacingAndGlyphs">SMA,</text>
<text x="148.30" y="62.90" font-size="12" fill="#4a4a4a" stroke="#4a4a4a" stroke-width="0.3" textLength="21.80" lengthAdjust="spacingAndGlyphs">100)</text>
<text x="178.20" y="62.90" font-size="12" fill="#f23645" stroke="#f23645" stroke-width="0.3" textLength="45.80" lengthAdjust="spacingAndGlyphs">88,571.2</text>
<text x="18.40" y="603.80" font-size="12" fill="#4a4a4a" stroke="#4a4a4a" stroke-width="0.3" textLength="15.50" lengthAdjust="spacingAndGlyphs">RSI</text>
<text x="38.60" y="603.80" font-size="12" fill="#4a4a4a" stroke="#4a4a4a" stroke-width="0.3" textLength="19.50" lengthAdjust="spacingAndGlyphs">(14,</text>
<text x="63.00" y="603.80" font-size="12" fill="#4a4a4a" stroke="#4a4a4a" stroke-width="0.3" textLength="30.50" lengthAdjust="spacingAndGlyphs">close,</text>
<text x="98.30" y="603.80" font-size="12" fill="#4a4a4a" stroke="#4a4a4a" stroke-width="0.3" textLength="24.60" lengthAdjust="spacingAndGlyphs">SMA,</text>
<text x="128.40" y="603.80" font-size="12" fill="#4a4a4a" stroke="#4a4a4a" stroke-width="0.3" textLength="13.60" lengthAdjust="spacingAndGlyphs">14,</text>
<text x="148.40" y="603.80" font-size="12" fill="#4a4a4a" stroke="#4a4a4a" stroke-width="0.3" textLength="9.80" lengthAdjust="spacingAndGlyphs">2)</text>
<text x="166.30" y="603.80" font-size="12" fill="#8e24aa" stroke="#8e24aa" stroke-width="0.3" textLength="28.70" lengthAdjust="spacingAndGlyphs">48.76</text>
<text x="202.90" y="603.80" font-size="12" fill="#fde047" stroke="#fde047" stroke-width="0.3" textLength="29.40" lengthAdjust="spacingAndGlyphs">59.68</text>
<text x="240.70" y="603.80" font-size="12" fill="#4a4a4a" stroke="#4a4a4a" stroke-width="0.3" textLength="6.90" lengthAdjust="spacingAndGlyphs">∅</text>
<text x="255.40" y="603.80" font-size="12" fill="#4a4a4a" stroke="#4a4a4a" stroke-width="0.3" textLength="6.90" lengthAdjust="spacingAndGlyphs">∅</text>
<text x="18.00" y="720.80" font-size="12" fill="#4a4a4a" stroke="#4a4a4a" stroke-width="0.3" textLength="29.80" lengthAdjust="spacingAndGlyphs">MACD</text>
<text x="52.70" y="720.80" font-size="12" fill="#4a4a4a" stroke="#4a4a4a" stroke-width="0.3" textLength="19.40" lengthAdjust="spacingAndGlyphs">(12,</text>
<text x="76.80" y="720.80" font-size="12" fill="#4a4a4a" stroke="#4a4a4a" stroke-width="0.3" textLength="15.20" lengthAdjust="spacingAndGlyphs">26,</text>
<text x="97.50" y="720.80" font-size="12" fill="#4a4a4a" stroke="#4a4a4a" stroke-width="0.3" textLength="30.30" lengthAdjust="spacingAndGlyphs">close,</text>
<text x="132.80" y="720.80" font-size="12" fill="#4a4a4a" stroke="#4a4a4a" stroke-width="0.3" textLength="8.50" lengthAdjust="spacingAndGlyphs">9,</text>
<text x="147.20" y="720.80" font-size="12" fill="#4a4a4a" stroke="#4a4a4a" stroke-width="0.3" textLength="24.30" lengthAdjust="spacingAndGlyphs">EMA,</text>
<text x="177.40" y="720.80" font-size="12" fill="#4a4a4a" stroke="#4a4a4a" stroke-width="0.3" textLength="25.50" lengthAdjust="spacingAndGlyphs">EMA)</text>
<text x="211.20" y="720.80" font-size="12" fill="#f7525f" stroke="#f7525f" stroke-width="0.3" textLength="34.90" lengthAdjust="spacingAndGlyphs">−177.4</text>
<text x="253.80" y="720.80" font-size="12" fill="#2962ff" stroke="#2962ff" stroke-width="0.3" textLength="29.00" lengthAdjust="spacingAndGlyphs">275.2</text>
<text x="290.40" y="720.80" font-size="12" fill="#ff6d00" stroke="#ff6d00" stroke-width="0.3" textLength="29.80" lengthAdjust="spacingAndGlyphs">452.6</text>
<g clip-path="url(#cpTime)">
<text x="-0.78" y="811.80" font-size="11" fill="#3a3a3a" stroke="#3a3a3a" stroke-width="0.3" textLength="26.60" lengthAdjust="spacingAndGlyphs">12:00</text>
<text x="57.20" y="811.80" font-size="11" fill="#3a3a3a" stroke="#3a3a3a" stroke-width="0.3" textLength="26.60" lengthAdjust="spacingAndGlyphs">18:00</text>
<text x="122.73" y="811.80" font-size="11" fill="#3a3a3a" stroke="#3a3a3a" stroke-width="0.3" textLength="11.50" lengthAdjust="spacingAndGlyphs">24</text>
<text x="173.17" y="811.80" font-size="11" fill="#3a3a3a" stroke="#3a3a3a" stroke-width="0.3" textLength="26.60" lengthAdjust="spacingAndGlyphs">06:00</text>
<text x="231.15" y="811.80" font-size="11" fill="#3a3a3a" stroke="#3a3a3a" stroke-width="0.3" textLength="26.60" lengthAdjust="spacingAndGlyphs">12:00</text>
<text x="289.13" y="811.80" font-size="11" fill="#3a3a3a" stroke="#3a3a3a" stroke-width="0.3" textLength="26.60" lengthAdjust="spacingAndGlyphs">18:00</text>
<text x="354.66" y="811.80" font-size="11" fill="#3a3a3a" stroke="#3a3a3a" stroke-width="0.3" textLength="11.50" lengthAdjust="spacingAndGlyphs">25</text>
<text x="405.09" y="811.80" font-size="11" fill="#3a3a3a" stroke="#3a3a3a" stroke-width="0.3" textLength="26.60" lengthAdjust="spacingAndGlyphs">06:00</text>
<text x="463.08" y="811.80" font-size="11" fill="#3a3a3a" stroke="#3a3a3a" stroke-width="0.3" textLength="26.60" lengthAdjust="spacingAndGlyphs">12:00</text>
<text x="521.06" y="811.80" font-size="11" fill="#3a3a3a" stroke="#3a3a3a" stroke-width="0.3" textLength="26.60" lengthAdjust="spacingAndGlyphs">18:00</text>
<text x="586.59" y="811.80" font-size="11" fill="#3a3a3a" stroke="#3a3a3a" stroke-width="0.3" textLength="11.50" lengthAdjust="spacingAndGlyphs">26</text>
<text x="637.02" y="811.80" font-size="11" fill="#3a3a3a" stroke="#3a3a3a" stroke-width="0.3" textLength="26.60" lengthAdjust="spacingAndGlyphs">06:00</text>
<text x="695.00" y="811.80" font-size="11" fill="#3a3a3a" stroke="#3a3a3a" stroke-width="0.3" textLength="26.60" lengthAdjust="spacingAndGlyphs">12:00</text>
<text x="752.99" y="811.80" font-size="11" fill="#3a3a3a" stroke="#3a3a3a" stroke-width="0.3" textLength="26.60" lengthAdjust="spacingAndGlyphs">18:00</text>
<text x="818.52" y="811.80" font-size="11" fill="#3a3a3a" stroke="#3a3a3a" stroke-width="0.3" textLength="11.50" lengthAdjust="spacingAndGlyphs">27</text>
<text x="868.95" y="811.80" font-size="11" fill="#3a3a3a" stroke="#3a3a3a" stroke-width="0.3" textLength="26.60" lengthAdjust="spacingAndGlyphs">06:00</text>
<text x="926.93" y="811.80" font-size="11" fill="#3a3a3a" stroke="#3a3a3a" stroke-width="0.3" textLength="26.60" lengthAdjust="spacingAndGlyphs">12:00</text>
<text x="984.91" y="811.80" font-size="11" fill="#3a3a3a" stroke="#3a3a3a" stroke-width="0.3" textLength="26.60" lengthAdjust="spacingAndGlyphs">18:00</text>
<text x="1050.45" y="811.80" font-size="11" fill="#3a3a3a" stroke="#3a3a3a" stroke-width="0.3" textLength="11.50" lengthAdjust="spacingAndGlyphs">28</text>
<text x="1100.88" y="811.80" font-size="11" fill="#3a3a3a" stroke="#3a3a3a" stroke-width="0.3" textLength="26.60" lengthAdjust="spacingAndGlyphs">06:00</text>
<text x="1158.86" y="811.80" font-size="11" fill="#3a3a3a" stroke="#3a3a3a" stroke-width="0.3" textLength="26.60" lengthAdjust="spacingAndGlyphs">12:00</text>
<text x="1216.84" y="811.80" font-size="11" fill="#3a3a3a" stroke="#3a3a3a" stroke-width="0.3" textLength="26.60" lengthAdjust="spacingAndGlyphs">18:00</text>
<text x="1282.37" y="811.80" font-size="11" fill="#3a3a3a" stroke="#3a3a3a" stroke-width="0.3" textLength="11.50" lengthAdjust="spacingAndGlyphs">29</text>
<text x="1332.81" y="811.80" font-size="11" fill="#3a3a3a" stroke="#3a3a3a" stroke-width="0.3" textLength="26.60" lengthAdjust="spacingAndGlyphs">06:00</text>
<text x="1390.79" y="811.80" font-size="11" fill="#3a3a3a" stroke="#3a3a3a" stroke-width="0.3" textLength="26.60" lengthAdjust="spacingAndGlyphs">12:00</text>
<text x="1448.77" y="811.80" font-size="11" fill="#3a3a3a" stroke="#3a3a3a" stroke-width="0.3" textLength="26.60" lengthAdjust="spacingAndGlyphs">18:00</text>
<text x="1514.30" y="811.80" font-size="11" fill="#3a3a3a" stroke="#3a3a3a" stroke-width="0.3" textLength="11.50" lengthAdjust="spacingAndGlyphs">30</text>
<text x="1564.73" y="811.80" font-size="11" fill="#3a3a3a" stroke="#3a3a3a" stroke-width="0.3" textLength="26.60" lengthAdjust="spacingAndGlyphs">06:00</text>
<text x="1622.72" y="811.80" font-size="11" fill="#3a3a3a" stroke="#3a3a3a" stroke-width="0.3" textLength="26.60" lengthAdjust="spacingAndGlyphs">12:00</text>
<text x="1680.70" y="811.80" font-size="11" fill="#3a3a3a" stroke="#3a3a3a" stroke-width="0.3" textLength="26.60" lengthAdjust="spacingAndGlyphs">18:00</text>
<text x="1741.78" y="811.80" font-size="11" fill="#3a3a3a" stroke="#3a3a3a" stroke-width="0.3" textLength="18.60" lengthAdjust="spacingAndGlyphs">Dec</text>
</g>
<text x="10.00" y="18.50" font-size="12" fill="#1c1c1c" stroke="#1c1c1c" stroke-width="0.3" textLength="66.80" lengthAdjust="spacingAndGlyphs">aayushjindal</text>
<text x="81.20" y="18.50" font-size="12" fill="#1c1c1c" stroke="#1c1c1c" stroke-width="0.3" textLength="40.90" lengthAdjust="spacingAndGlyphs">created</text>
<text x="126.40" y="18.50" font-size="12" fill="#1c1c1c" stroke="#1c1c1c" stroke-width="0.3" textLength="22.90" lengthAdjust="spacingAndGlyphs">with</text>
<text x="153.50" y="18.50" font-size="12" fill="#1c1c1c" stroke="#1c1c1c" stroke-width="0.3" textLength="93.70" lengthAdjust="spacingAndGlyphs">TradingView.com,</text>
<text x="252.30" y="18.50" font-size="12" fill="#1c1c1c" stroke="#1c1c1c" stroke-width="0.3" textLength="19.40" lengthAdjust="spacingAndGlyphs">Nov</text>
<text x="276.10" y="18.50" font-size="12" fill="#1c1c1c" stroke="#1c1c1c" stroke-width="0.3" textLength="14.70" lengthAdjust="spacingAndGlyphs">28,</text>
<text x="296.30" y="18.50" font-size="12" fill="#1c1c1c" stroke="#1c1c1c" stroke-width="0.3" textLength="24.50" lengthAdjust="spacingAndGlyphs">2025</text>
<text x="325.20" y="18.50" font-size="12" fill="#1c1c1c" stroke="#1c1c1c" stroke-width="0.3" textLength="28.30" lengthAdjust="spacingAndGlyphs">02:18</text>
<text x="358.40" y="18.50" font-size="12" fill="#1c1c1c" stroke="#1c1c1c" stroke-width="0.3" textLength="21.00" lengthAdjust="spacingAndGlyphs">UTC</text>
<g transform="translate(12 841.9) scale(0.845 0.817)" fill="#141414"><path d="M14 22H7V11H0V4h14v18zM28 22h-8l7.5-18h8L28 22z"/><circle cx="20" cy="8" r="4"/></g>
<text x="49.30" y="859.90" font-size="20.5" fill="#141414" font-weight="bold" textLength="120.70" lengthAdjust="spacingAndGlyphs">TradingView</text>
<g transform="translate(1075.6 571.4)"><circle r="10.6" fill="#fff"/><circle cx="-10.6" cy="3.7" r="5.2" fill="#fff"/><path d="M-9.37 -2.87A9.8 9.8 0 1 1 -7.51 6.3" fill="none" stroke="#9c27b0" stroke-width="1.35"/><path d="M3 -5.3L-4 0.35H-0.4L-3.2 5.5L4 -0.35H0.6z" fill="#9c27b0" stroke="#9c27b0" stroke-width="0.3" stroke-linejoin="round"/><path d="M-10.6 -1.5Q-9.5 2.6 -5.4 3.7Q-9.5 4.8 -10.6 8.9Q-11.7 4.8 -15.8 3.7Q-11.7 2.6 -10.6 -1.5z" fill="#7a4bff"/></g>
</svg>
</body>
</html>
